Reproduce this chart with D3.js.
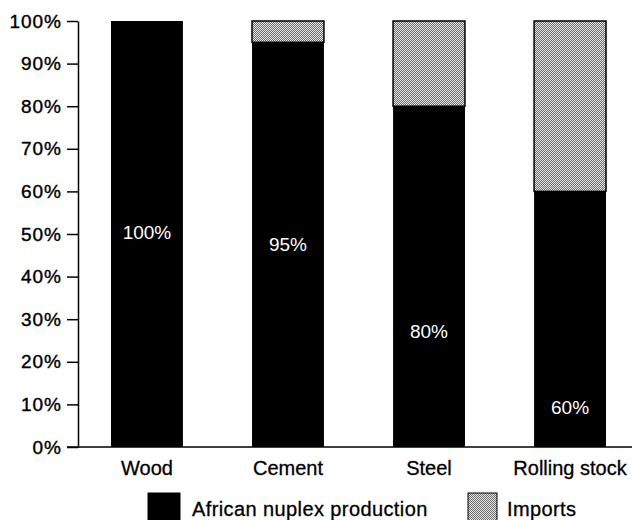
<!DOCTYPE html>
<html>
<head>
<meta charset="utf-8">
<script src="https://cdn.jsdelivr.net/npm/d3@7"></script>
<style>
  body { margin: 0; background: #fff; }
  text { font-family: "Liberation Sans", Arial, sans-serif; }
</style>
</head>
<body>
<div id="chart"></div>
<script>
const categories = ["Wood", "Cement", "Steel", "Rolling stock"];
const nuplex = [100, 95, 80, 60];
const imports = [0, 5, 20, 40];
const barLabels = ["100%", "95%", "80%", "60%"];
// where each in-bar label sits, in percent units
const labelAt = [50.5, 47.6, 27.2, 9.4];
const yTicks = [0, 10, 20, 30, 40, 50, 60, 70, 80, 90, 100];

const svg = d3.select("#chart").append("svg")
    .attr("width", 632)
    .attr("height", 520);

const margin = { top: 21, left: 78, bottom: 73 };
const height = 520 - margin.top - margin.bottom;

const defs = svg.append("defs");
const pat = defs.append("pattern")
    .attr("id", "dots")
    .attr("width", 2)
    .attr("height", 2)
    .attr("patternUnits", "userSpaceOnUse");
pat.append("rect").attr("width", 2).attr("height", 2).attr("fill", "#e8e8e8");
pat.append("rect").attr("width", 1).attr("height", 1).attr("fill", "#6a6a6a");
pat.append("rect").attr("x", 1).attr("y", 1).attr("width", 1).attr("height", 1).attr("fill", "#6a6a6a");

const x = d3.scaleBand()
    .domain(categories)
    .range([0, 561])
    .paddingInner(0.49)
    .paddingOuter(0.234);

const y = d3.scaleLinear()
    .domain([0, 100])
    .range([height, 0]);

const g = svg.append("g")
    .attr("transform", `translate(${margin.left},${margin.top})`);

const rows = categories.map((c, i) => ({ cat: c, nuplex: nuplex[i], imports: imports[i], label: barLabels[i], at: labelAt[i] }));

// nuplex production bars
g.selectAll("rect.nuplex")
    .data(rows)
    .enter()
    .append("rect")
    .attr("class", "nuplex")
    .attr("x", d => x(d.cat))
    .attr("y", d => y(d.nuplex))
    .attr("width", x.bandwidth())
    .attr("height", d => y(0) - y(d.nuplex))
    .attr("fill", "#000");

// imports on top
g.selectAll("rect.imports")
    .data(rows.filter(d => d.imports > 0))
    .enter()
    .append("rect")
    .attr("class", "imports")
    .attr("x", d => x(d.cat))
    .attr("y", d => y(d.nuplex + d.imports))
    .attr("width", x.bandwidth())
    .attr("height", d => y(d.nuplex) - y(d.nuplex + d.imports))
    .attr("fill", "url(#dots)")
    .attr("stroke", "#000")
    .attr("stroke-width", 1.5);

// labels inside the bars
g.selectAll("text.val")
    .data(rows)
    .enter()
    .append("text")
    .attr("class", "val")
    .attr("x", d => x(d.cat) + x.bandwidth() / 2)
    .attr("y", d => y(d.at))
    .attr("dy", "0.35em")
    .attr("text-anchor", "middle")
    .attr("fill", "#fff")
    .style("font-size", "19px")
    .text(d => d.label);

// y axis
const yAxis = g.append("g")
    .call(d3.axisLeft(y).tickValues(yTicks).tickFormat(d => d + "%").tickSize(11).tickSizeOuter(0).tickPadding(6));
yAxis.select(".domain").attr("stroke-width", 1.5);
yAxis.selectAll(".tick line").attr("stroke-width", 1.5);
yAxis.selectAll("text")
    .attr("fill", "#000")
    .attr("stroke", "#000")
    .attr("stroke-width", 0.4)
    .attr("dx", "1px")
    .style("font-size", "19px")
    .style("letter-spacing", "1px")
    .style("font-family", "Liberation Sans, Arial, sans-serif");

// baseline
g.append("line")
    .attr("x1", -11)
    .attr("x2", 632 - margin.left)
    .attr("y1", y(0))
    .attr("y2", y(0))
    .attr("stroke", "#000")
    .attr("stroke-width", 1.5);

// x labels
const xAxis = g.append("g")
    .attr("transform", `translate(0,${height})`)
    .call(d3.axisBottom(x).tickSize(0).tickPadding(14));
xAxis.select(".domain").remove();
xAxis.selectAll("text")
    .attr("fill", "#000")
    .attr("stroke", "#000")
    .attr("stroke-width", 0.3)
    .style("font-size", "20px")
    .style("font-family", "Liberation Sans, Arial, sans-serif");

// legend
const legendItems = [
    { name: "African nuplex production", fill: "#000", x: 148, w: 32, tx: 192 },
    { name: "Imports", fill: "url(#dots)", x: 468, w: 29, tx: 507 }
];
const legend = svg.append("g");
legend.selectAll("rect")
    .data(legendItems)
    .enter()
    .append("rect")
    .attr("x", d => d.x)
    .attr("y", 493)
    .attr("width", d => d.w)
    .attr("height", 30)
    .attr("fill", d => d.fill)
    .attr("stroke", "#000")
    .attr("stroke-width", 1);
legend.selectAll("text")
    .data(legendItems)
    .enter()
    .append("text")
    .attr("x", d => d.tx)
    .attr("y", 516)
    .attr("stroke", "#000")
    .attr("stroke-width", 0.3)
    .style("font-size", "20px")
    .style("letter-spacing", "0.4px")
    .text(d => d.name);
</script>
</body>
</html>
